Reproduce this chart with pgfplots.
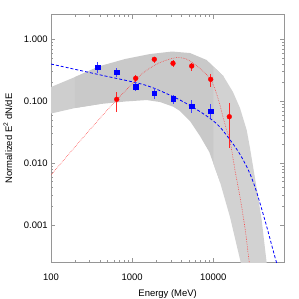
\documentclass[border=0pt]{standalone}
\usepackage{pgfplots}
\pgfplotsset{compat=1.18}
\usepackage{fontspec}
\setmainfont{Liberation Sans}
\definecolor{bandleft}{RGB}{206,206,206}
\definecolor{banddark}{RGB}{201,201,201}
\definecolor{bandlight}{RGB}{210,210,210}
\definecolor{axgray}{RGB}{150,150,150}
\begin{document}
\fontsize{9.5}{11}\selectfont
\begin{tikzpicture}
\useasboundingbox (-51bp,-36.7bp) rectangle (248bp,262.3bp);
\begin{axis}[
  scale only axis, width=233.3bp, height=247.6bp,
  xmode=log, ymode=log,
  xmin=100, xmax=75000, ymin=2.5e-4, ymax=2.5,
  axis line style={axgray, line width=0.6pt},
  tick style={axgray, line width=0.6pt},
  major tick length=4bp, minor tick length=2.3bp,
  tick align=inside,
  xtick={100,1000,10000}, xticklabels={100,1000,10000},
  ytick={0.001,0.01,0.1,1}, yticklabels={0.001,0.010,0.100,1.000},
  xticklabel style={anchor=center, yshift=-14.5bp, font=\fontsize{9.5}{11}\selectfont},
  yticklabel style={font=\fontsize{9.5}{11}\selectfont},
  xlabel={Energy (MeV)},
  ylabel={Normalized E\textsuperscript{2} dN/dE},
  xlabel style={at={(axis description cs:0.5,-0.128)}, anchor=center, font=\fontsize{9.5}{11}\selectfont},
  ylabel style={at={(axis description cs:-0.185,0.5)}, anchor=center, font=\fontsize{9.5}{11}\selectfont},
  clip=true,
]
% confidence band
\addplot[fill=bandleft, draw=none] coordinates {
 (100,0.1696) (197.6,0.2460) (401.7,0.3704) (401.7,0.0901) (197.6,0.07766) (100,0.06328)
} -- cycle;
\addplot[fill=banddark, draw=none] coordinates {
 (197.6,0.2460) (401.7,0.3704) (816.3,0.4806) (1659.6,0.5788) (3098,0.6352) (5163,0.6007) (8291,0.4631) (10000,0.3653) (13282,0.2553)
 (12092,0.004952) (10000,0.00996) (8928,0.0151) (6856,0.02741) (5163,0.04787) (3887,0.0695) (3214,0.0815) (2203.6,0.0971) (1511,0.1045) (816.3,0.0989) (401.7,0.0901) (197.6,0.07766)
} -- cycle;
\addplot[fill=bandlight, draw=none] coordinates {
 (10000,0.3653) (13282,0.2553) (17488,0.1408) (21330,0.0777) (25800,0.03424) (28340,0.01753) (31130,0.008332) (34560,0.003675) (39480,0.001204) (45500,0.0002432) (47220,0.0001557)
 (23230,0.0001557) (21760,0.0002496) (16063,0.001346) (12092,0.004952) (10000,0.00996)
} -- cycle;
% blue model
\addplot[blue, line width=0.8pt, dash pattern=on 3pt off 2pt, smooth] coordinates {
 (100,0.399) (401.7,0.2667) (1440,0.1827) (3215,0.1182) (5155,0.0852) (8290,0.0577) (12075,0.0383) (19760,0.01628) (27000,0.00774) (33590,0.003675) (44610,0.001038) (60100,0.0002496) (76460,0.000107)
};
% red model
\addplot[red!80, line width=0.55pt, dash pattern=on 0.6pt off 1.1pt, smooth] coordinates {
 (100,0.006424) (227.8,0.02275) (533.4,0.0806) (940.8,0.1760) (1249.5,0.2602) (1659.6,0.3439) (2203.6,0.4218) (2926,0.4806) (3571,0.5082) (4481,0.4896) (5622,0.4141) (6856,0.3375) (8366,0.2650) (9639,0.2042) (10800,0.1408) (12092,0.0868) (13282,0.0535) (14625,0.03424) (16063,0.02275) (18513,0.00774) (21330,0.002834) (24584,0.000894) (27770,0.0002496) (29990,0.0001293)
};
% blue data
\addplot[blue, only marks, mark=square*, mark size=2.3pt,
  error bars/.cd, y dir=both, y explicit, error mark=none,
  error bar style={blue!75, line width=0.9pt}] coordinates {
 (376,0.3529) += (0,0.077) -= (0,0.064)
 (645,0.2930) += (0,0.047) -= (0,0.044)
 (1106,0.1715) += (0,0.035) -= (0,0.025)
 (1875,0.1341) += (0,0.0275) -= (0,0.0267)
 (3188,0.1098) += (0,0.016) -= (0,0.0197)
 (5418,0.0836) += (0,0.0209) -= (0,0.0199)
 (9290,0.0695) += (0,0.0206) -= (0,0.0166)
};
% red data
\addplot[red, only marks, mark=*, mark size=2.4pt,
  error bars/.cd, y dir=both, y explicit, error mark=none,
  error bar style={red!85, line width=0.9pt}] coordinates {
 (645,0.1074) += (0,0.0319) -= (0,0.0397)
 (1106,0.2344) += (0,0.0306) -= (0,0.0324)
 (1875,0.4753) += (0,0.048) -= (0,0.066)
 (3188,0.4096) += (0,0.0535) -= (0,0.0567)
 (5418,0.3704) += (0,0.0484) -= (0,0.0594)
 (9290,0.2259) += (0,0.0461) -= (0,0.0544)
 (15750,0.0562) += (0,0.0384) -= (0,0.0389)
};
\end{axis}
\end{tikzpicture}
\end{document}
